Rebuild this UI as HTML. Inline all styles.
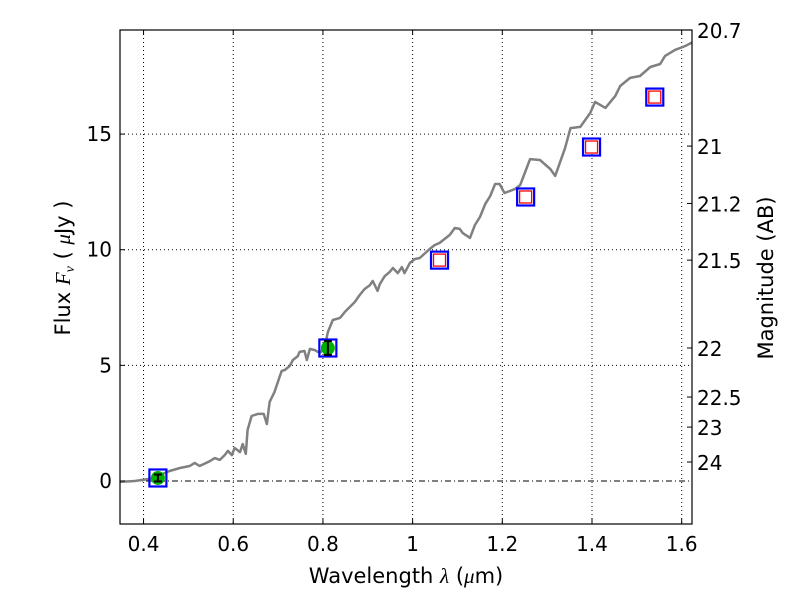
<!DOCTYPE html>
<html><head><meta charset="utf-8"><style>
body{margin:0;background:#fff;}
svg text{font-family:"DejaVu Sans","Liberation Sans",sans-serif;fill:#000;}
</style></head><body>
<svg id="chart" width="800" height="600" viewBox="0 0 800 600"></svg>
<script>
const xTicks=[0.4,0.6,0.8,1,1.2,1.4,1.6];
const xTickLabels=["0.4","0.6","0.8","1","1.2","1.4","1.6"];
const yTicks=[0,5,10,15];
const magTickLabels=["20.7","21","21.2","21.5","22","22.5","23","24"];
const magTickFlux=[19.5,14.48,12.0,9.55,5.75,3.63,2.33,0.82];
const specLambda=[0.347,0.380,0.414,0.432,0.458,0.481,0.503,0.514,0.525,0.548,0.559,0.570,0.581,0.588,0.597,0.603,0.615,0.621,0.628,0.632,0.641,0.655,0.668,0.675,0.681,0.692,0.704,0.708,0.715,0.726,0.733,0.744,0.748,0.759,0.764,0.771,0.782,0.793,0.804,0.811,0.822,0.838,0.849,0.871,0.882,0.893,0.905,0.911,0.922,0.927,0.938,0.949,0.956,0.967,0.976,0.982,0.994,1.005,1.016,1.038,1.049,1.060,1.083,1.094,1.105,1.112,1.128,1.139,1.150,1.162,1.173,1.184,1.194,1.205,1.228,1.240,1.262,1.284,1.307,1.318,1.340,1.352,1.374,1.396,1.407,1.430,1.452,1.463,1.485,1.507,1.530,1.552,1.563,1.585,1.608,1.630];
const specFlux=[-0.04,0.00,0.09,0.22,0.43,0.56,0.65,0.78,0.65,0.86,0.99,0.91,1.12,1.30,1.12,1.43,1.25,1.60,1.17,2.21,2.81,2.90,2.90,2.46,3.41,3.85,4.54,4.76,4.80,4.97,5.23,5.40,5.58,5.62,5.23,5.71,5.66,5.53,5.80,6.44,6.96,7.05,7.31,7.74,8.04,8.30,8.47,8.65,8.22,8.52,8.86,9.04,9.21,8.99,9.25,8.99,9.43,9.60,9.64,10.03,10.20,10.29,10.64,10.94,10.90,10.72,10.51,11.07,11.41,11.98,12.32,12.84,12.84,12.45,12.62,12.80,13.92,13.88,13.49,13.19,14.40,15.26,15.31,15.91,16.39,16.13,16.65,17.08,17.43,17.51,17.90,18.03,18.38,18.64,18.81,19.03];
const photLambda=[0.432,0.811,1.060,1.252,1.399,1.540];
const photFlux=[0.13,5.75,9.55,12.28,14.44,16.60];
const photErr=[0.15,0.30,0.2,0.2,0.2,0.2];
const photType=["det","det","lim","lim","lim","lim"];

const L=120,R=692,T=30,B=524;
const xMin=0.3475,xMax=1.623,yMin=-1.86,yMax=19.5;
const X=v=>L+(v-xMin)/(xMax-xMin)*(R-L);
const Y=v=>B-(v-yMin)/(yMax-yMin)*(B-T);
const svg=document.getElementById('chart');
const NS='http://www.w3.org/2000/svg';
function mk(tag,attrs,parent){const e=document.createElementNS(NS,tag);for(const k in attrs)e.setAttribute(k,attrs[k]);(parent||svg).appendChild(e);return e;}

xTicks.forEach(v=>{const g=mk('line',{x1:X(v),x2:X(v),y1:T,y2:B,stroke:'#000','stroke-width':1,'stroke-dasharray':'1,3'});

});
yTicks.forEach(v=>{const g=mk('line',{x1:L,x2:R,y1:Y(v),y2:Y(v),stroke:'#000','stroke-width':1,'stroke-dasharray':v===0?'6,3,1,3':'1,3'});

});

const clip=mk('clipPath',{id:'pc'});mk('rect',{x:L,y:T,width:R-L,height:B-T},clip);
const d=specLambda.map((l,i)=>(i?'L':'M')+X(l).toFixed(1)+','+Y(specFlux[i]).toFixed(1)).join(' ');
const sp=mk('path',{d:d,fill:'none',stroke:'#808080','stroke-width':2.5,'clip-path':'url(#pc)','stroke-linejoin':'round'});



photLambda.forEach((l,i)=>{
  const cx=X(l),cy=Y(photFlux[i]);
  const g=mk('g',{});
  
  
  mk('rect',{x:cx-8.5,y:cy-8.5,width:17,height:17,fill:'none',stroke:'#0000ff','stroke-width':2.2},g);
  if(photType[i]==='det'){
    mk('circle',{cx:cx,cy:cy,r:7,fill:'#00b000'},g);
    const e=Math.max(Y(photFlux[i]-photErr[i])-cy,1.2);
    mk('line',{x1:cx,x2:cx,y1:cy-e,y2:cy+e,stroke:'#000','stroke-width':2},g);
    mk('line',{x1:cx-4,x2:cx+4,y1:cy-e,y2:cy-e,stroke:'#000','stroke-width':2},g);
    mk('line',{x1:cx-4,x2:cx+4,y1:cy+e,y2:cy+e,stroke:'#000','stroke-width':2},g);
  } else {
    mk('rect',{x:cx-6,y:cy-6,width:12,height:12,fill:'#fff',stroke:'#ff0000','stroke-width':1.3},g);
  }
});

const fr=mk('rect',{x:L,y:T,width:R-L,height:B-T,fill:'none',stroke:'#000','stroke-width':1.2});



xTicks.forEach((v,i)=>{
  mk('line',{x1:X(v),x2:X(v),y1:B,y2:B-5,stroke:'#000'});
  mk('line',{x1:X(v),x2:X(v),y1:T,y2:T+5,stroke:'#000'});
  const t=mk('text',{x:X(v),y:B+27,'font-size':20,'text-anchor':'middle'});t.textContent=xTickLabels[i];
  
  
});
yTicks.forEach(v=>{
  mk('line',{x1:L,x2:L+5,y1:Y(v),y2:Y(v),stroke:'#000'});
  const t=mk('text',{x:L-8,y:Y(v)+7,'font-size':20,'text-anchor':'end'});t.textContent=String(v);
  
  
});
magTickFlux.forEach((f,i)=>{
  mk('line',{x1:R,x2:R-5,y1:Y(f),y2:Y(f),stroke:'#000'});
  const t=mk('text',{x:R+5,y:Y(f)+8,'font-size':20});t.textContent=magTickLabels[i];
  
  
});

const xt=mk('text',{x:406,y:583,'font-size':21,'text-anchor':'middle'});
xt.innerHTML='Wavelength  <tspan font-style="italic" font-family="Liberation Serif">λ</tspan> (<tspan font-style="italic" font-family="Liberation Serif">μ</tspan>m)';


const yt=mk('text',{x:0,y:0,'font-size':21,'text-anchor':'middle',transform:'translate(70,268) rotate(-90)'});
yt.innerHTML='Flux  <tspan font-style="italic" font-family="Liberation Serif">F</tspan><tspan font-style="italic" font-family="Liberation Serif" font-size="14" dy="4">ν</tspan><tspan dy="-4">  (  </tspan><tspan font-style="italic" font-family="Liberation Serif">μ</tspan>Jy )';


const mt=mk('text',{x:0,y:0,'font-size':21,'text-anchor':'middle',transform:'translate(773,278) rotate(-90)'});
mt.textContent='Magnitude (AB)';


</script>
</body></html>
